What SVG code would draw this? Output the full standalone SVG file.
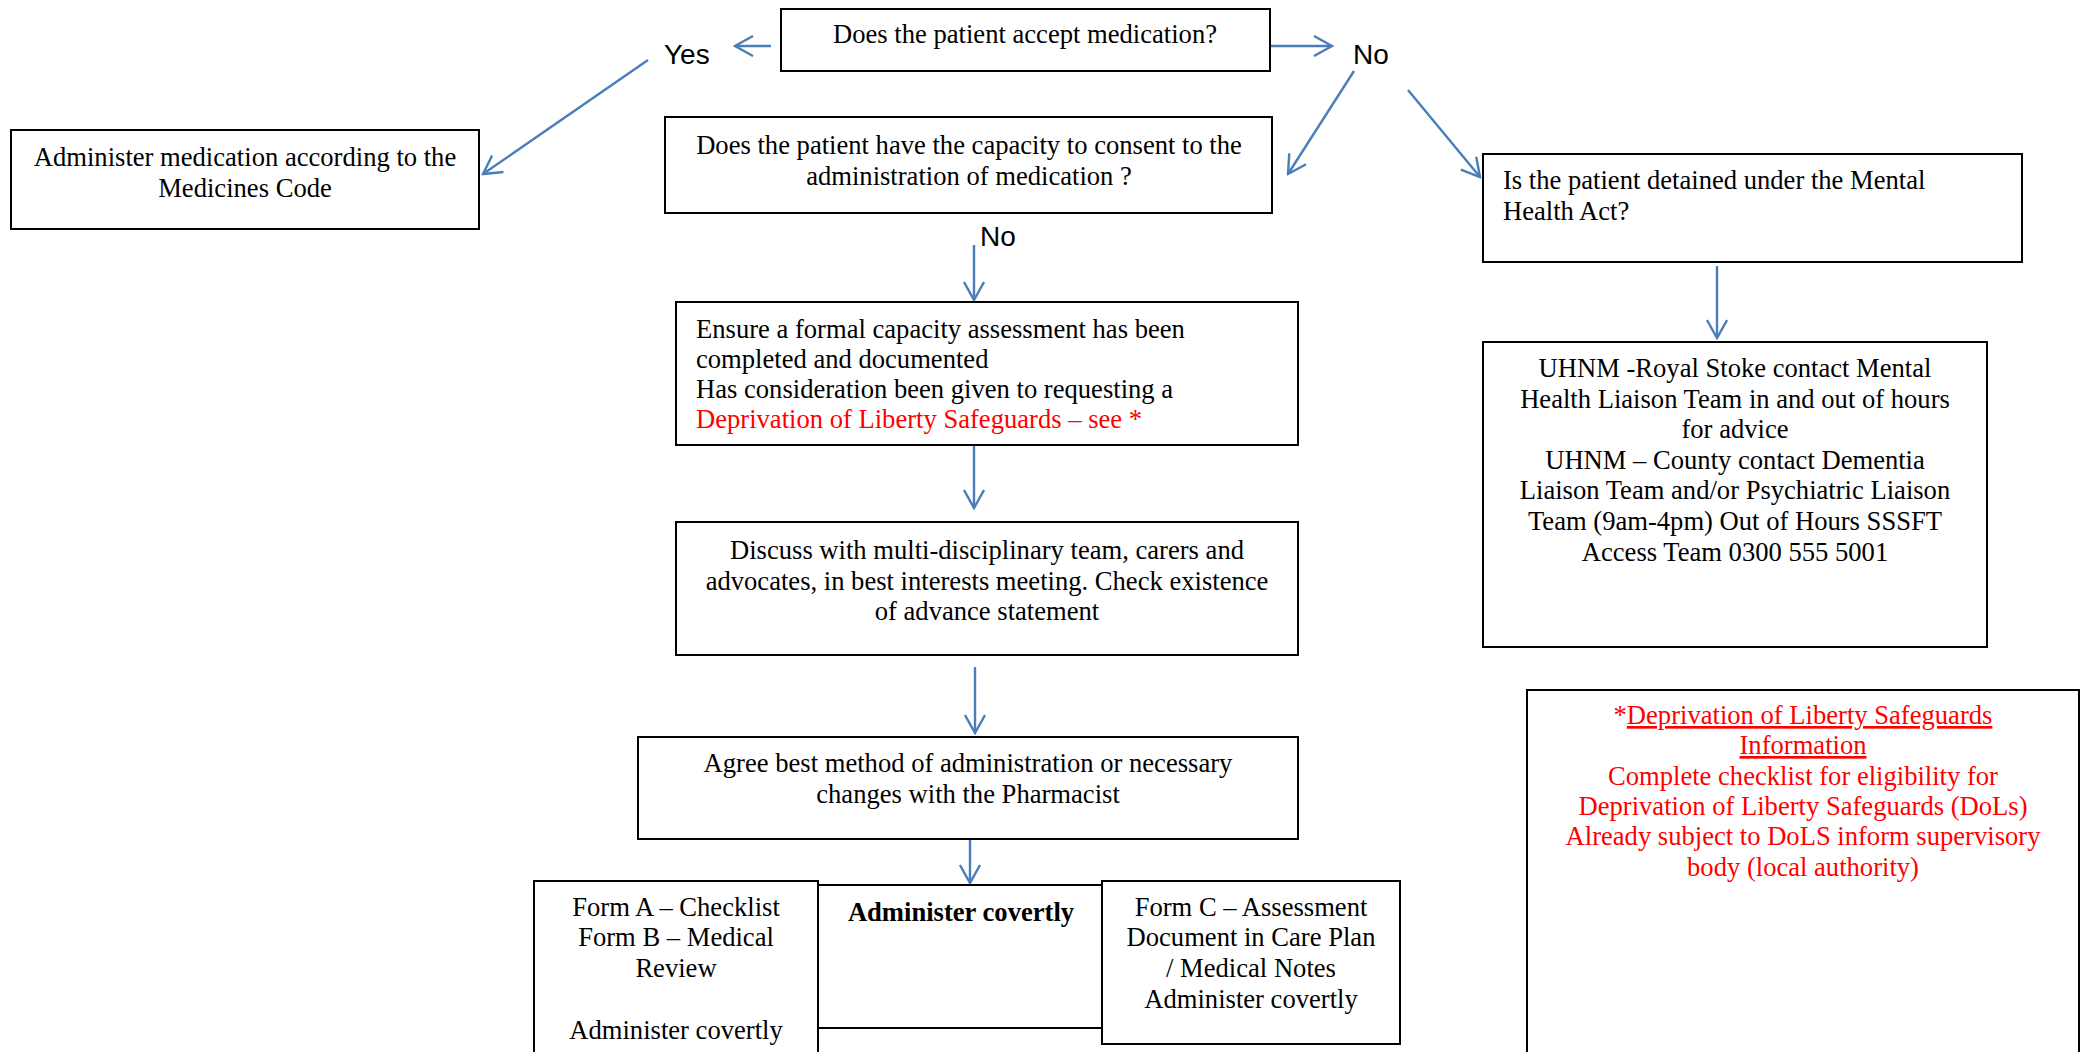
<svg xmlns="http://www.w3.org/2000/svg" width="2087" height="1052" viewBox="0 0 2087 1052">
<style>
.box{fill:#fff;stroke:#000;stroke-width:2}
.t{font-family:"Liberation Serif","Times New Roman",serif;font-size:26.6px;fill:#000}
.c{text-anchor:middle}
.red{fill:#ff0000}
.lbl{font-family:"Liberation Sans",Arial,sans-serif;font-size:28px;fill:#000}
.con{stroke:#4a7ebb;stroke-width:2.4;fill:none;marker-end:url(#arr)}
</style>
<defs>
<marker id="arr" viewBox="-1 -1 21 22" refX="18" refY="10" markerWidth="21" markerHeight="22" markerUnits="userSpaceOnUse" orient="auto">
<path d="M0,0 L18,10 L0,20" fill="none" stroke="#4a7ebb" stroke-width="2.4"/>
</marker>
</defs>
<rect width="2087" height="1052" fill="#fff"/>

<g id="connectors">
<line class="con" x1="771" y1="46" x2="735" y2="46"/>
<line class="con" x1="1270" y1="46" x2="1332" y2="46"/>
<line class="con" x1="648" y1="60" x2="483" y2="174"/>
<line class="con" x1="1354" y1="71" x2="1288" y2="174"/>
<line class="con" x1="1408" y1="90" x2="1480" y2="177"/>
<line class="con" x1="974" y1="245" x2="974" y2="300"/>
<line class="con" x1="974" y1="445" x2="974" y2="508"/>
<line class="con" x1="975" y1="667" x2="975" y2="733"/>
<line class="con" x1="970" y1="839" x2="970" y2="883"/>
<line class="con" x1="1717" y1="266" x2="1717" y2="338"/>
<text class="lbl" x="664" y="64">Yes</text>
<text class="lbl" x="1353" y="64">No</text>
<text class="lbl" x="980" y="246">No</text>
</g>

<g id="n-accept">
<rect class="box" x="781" y="9" width="489" height="62"/>
<text class="t c" x="1025" y="43">Does the patient accept medication?</text>
</g>

<g id="n-administer">
<rect class="box" x="11" y="130" width="468" height="99"/>
<text class="t c" x="245" y="166">Administer medication according to the</text>
<text class="t c" x="245" y="197">Medicines Code</text>
</g>

<g id="n-capacity">
<rect class="box" x="665" y="117" width="607" height="96"/>
<text class="t c" x="969" y="154">Does the patient have the capacity to consent to the</text>
<text class="t c" x="969" y="185">administration of medication ?</text>
</g>

<g id="n-mha">
<rect class="box" x="1483" y="154" width="539" height="108"/>
<text class="t" x="1503" y="189">Is the patient detained under the Mental</text>
<text class="t" x="1503" y="220">Health Act?</text>
</g>

<g id="n-ensure">
<rect class="box" x="676" y="302" width="622" height="143"/>
<text class="t" x="696" y="338">Ensure a formal capacity assessment has been</text>
<text class="t" x="696" y="368">completed and documented</text>
<text class="t" x="696" y="398">Has consideration been given to requesting a</text>
<text class="t red" x="696" y="428">Deprivation of Liberty Safeguards – see *</text>
</g>

<g id="n-uhnm">
<rect class="box" x="1483" y="342" width="504" height="305"/>
<text class="t c" x="1735" y="377">UHNM -Royal Stoke contact Mental</text>
<text class="t c" x="1735" y="408">Health Liaison Team in and out of hours</text>
<text class="t c" x="1735" y="438">for advice</text>
<text class="t c" x="1735" y="469">UHNM – County contact Dementia</text>
<text class="t c" x="1735" y="499">Liaison Team and/or Psychiatric Liaison</text>
<text class="t c" x="1735" y="530">Team (9am-4pm) Out of Hours SSSFT</text>
<text class="t c" x="1735" y="561">Access Team 0300 555 5001</text>
</g>

<g id="n-discuss">
<rect class="box" x="676" y="522" width="622" height="133"/>
<text class="t c" x="987" y="559">Discuss with multi-disciplinary team, carers and</text>
<text class="t c" x="987" y="590">advocates, in best interests meeting. Check existence</text>
<text class="t c" x="987" y="620">of advance statement</text>
</g>

<g id="n-agree">
<rect class="box" x="638" y="737" width="660" height="102"/>
<text class="t c" x="968" y="772">Agree best method of administration or necessary</text>
<text class="t c" x="968" y="803">changes with the Pharmacist</text>
</g>

<g id="n-forma">
<rect class="box" x="534" y="881" width="284" height="190"/>
<text class="t c" x="676" y="916">Form A – Checklist</text>
<text class="t c" x="676" y="946">Form B – Medical</text>
<text class="t c" x="676" y="977">Review</text>
<text class="t c" x="676" y="1039">Administer covertly</text>
</g>

<g id="n-covert">
<rect class="box" x="818" y="885" width="284" height="143"/>
<text class="t c" x="961" y="921" font-weight="bold">Administer covertly</text>
</g>

<g id="n-formc">
<rect class="box" x="1102" y="881" width="298" height="163"/>
<text class="t c" x="1251" y="916">Form C – Assessment</text>
<text class="t c" x="1251" y="946">Document in Care Plan</text>
<text class="t c" x="1251" y="977">/ Medical Notes</text>
<text class="t c" x="1251" y="1008">Administer covertly</text>
</g>

<g id="n-dols">
<rect class="box" x="1527" y="690" width="552" height="380"/>
<text class="t c red" x="1803" y="724">*<tspan text-decoration="underline">Deprivation of Liberty Safeguards</tspan></text>
<text class="t c red" x="1803" y="754" text-decoration="underline">Information</text>
<text class="t c red" x="1803" y="785">Complete checklist for eligibility for</text>
<text class="t c red" x="1803" y="815">Deprivation of Liberty Safeguards (DoLs)</text>
<text class="t c red" x="1803" y="845">Already subject to DoLS inform supervisory</text>
<text class="t c red" x="1803" y="876">body (local authority)</text>
</g>
</svg>
